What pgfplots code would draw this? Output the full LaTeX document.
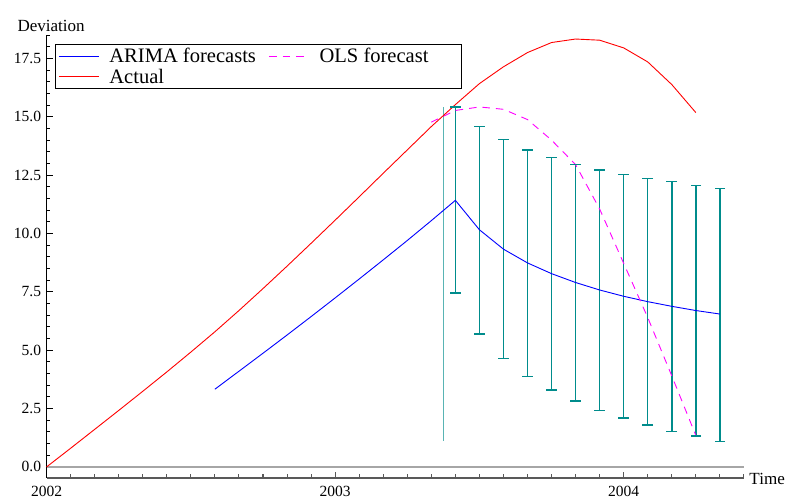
\documentclass[border=0pt]{standalone}
\usepackage{fontspec}
\setmainfont{Liberation Serif}
\usepackage{pgfplots}
\pgfplotsset{compat=1.18}
\definecolor{errteal}{RGB}{0,140,140}
\definecolor{ablue}{RGB}{0,0,255}
\definecolor{ared}{RGB}{255,0,0}
\definecolor{amag}{RGB}{255,0,255}
\begin{document}
\begin{tikzpicture}
\begin{axis}[
  scale only axis, width=696pt, height=442pt,
  xmin=2002, xmax=2004.4167, ymin=-0.47, ymax=18.5,
  axis x line=bottom, axis y line=left,
  axis line style={-},
  x axis line style={draw=black!65, line width=1.2pt},
  y axis line style={draw=black, line width=1pt},
  xtick={2002,2003,2004}, xticklabels={2002,2003,2004},
  minor xtick={2002.0833,2002.1667,2002.25,2002.3333,2002.4167,2002.5,2002.5833,2002.6667,2002.75,2002.8333,2002.9167,
               2003.0833,2003.1667,2003.25,2003.3333,2003.4167,2003.5,2003.5833,2003.6667,2003.75,2003.8333,2003.9167,
               2004.0833,2004.1667,2004.25,2004.3333,2004.4167},
  ytick={0,2.5,5,7.5,10,12.5,15,17.5},
  minor ytick={0.5,1,1.5,2,3,3.5,4,4.5,5.5,6,6.5,7,8,8.5,9,9.5,10.5,11,11.5,12,13,13.5,14,14.5,15.5,16,16.5,17,18,18.5},
  tick align=inside,
  major tick length=6pt, minor tick length=3.5pt,
  x tick style={draw=black!65, line width=1pt},
  y tick style={draw=black, line width=0.9pt},
  /pgf/number format/assume math mode=true,
  tick label style={font=\fontsize{15.5}{17}\selectfont},
  yticklabel style={xshift=-2pt, /pgf/number format/fixed, /pgf/number format/fixed zerofill, /pgf/number format/precision=1},
  xticklabel style={yshift=-5pt},
  xlabel={Time}, ylabel={Deviation},
  xlabel style={at={(axis description cs:1,0)}, anchor=west, xshift=2pt, yshift=-1.5pt, font=\fontsize{17}{19}\selectfont},
  ylabel style={rotate=-90, at={(axis description cs:0,1)}, anchor=south, xshift=4.5pt, font=\fontsize{17}{19}\selectfont},
  clip=false,
  unbounded coords=jump,
  legend columns=2,
  legend cell align=left,
  legend image code/.code={\draw[#1, line width=1pt] (0pt,0pt) -- (40pt,0pt);},
  legend style={at={(rel axis cs:0.0122,0.9796)}, anchor=north west,
    font=\fontsize{20.5}{22}\selectfont, inner xsep=3pt, inner ysep=3pt,
    nodes={inner xsep=4pt, inner ysep=1pt}, row sep=2.5pt,
    /tikz/every odd column/.append style={column sep=6pt},
    /tikz/every even column/.append style={column sep=8.5pt}},
]
\addplot[draw=gray!70, line width=1.3pt, forget plot] coordinates {(2002,0) (2004.4167,0)};
\addplot[draw=errteal!65, line width=1.5pt, forget plot] coordinates {(2003.375,1.12) (2003.375,15.42)};
\addplot[draw=errteal, line width=1.5pt, mark=-, mark size=5.3pt, mark options={solid, draw=errteal, line width=1.3pt}, forget plot]
coordinates {
(2003.4167,7.45) (2003.4167,15.42) (2003.4167,nan)
(2003.5,5.69) (2003.5,14.59) (2003.5,nan)
(2003.5833,4.64) (2003.5833,14.02) (2003.5833,nan)
(2003.6667,3.86) (2003.6667,13.58) (2003.6667,nan)
(2003.75,3.29) (2003.75,13.25) (2003.75,nan)
(2003.8333,2.82) (2003.8333,12.96) (2003.8333,nan)
(2003.9167,2.43) (2003.9167,12.72) (2003.9167,nan)
(2004.0,2.09) (2004.0,12.52) (2004.0,nan)
(2004.0833,1.80) (2004.0833,12.36) (2004.0833,nan)
(2004.1667,1.53) (2004.1667,12.22) (2004.1667,nan)
(2004.25,1.32) (2004.25,12.07) (2004.25,nan)
(2004.3333,1.10) (2004.3333,11.94)
};
\addplot[color=ablue, line width=0.9pt] coordinates {
(2002.5833,3.33) (2002.6667,4.10) (2002.75,4.87) (2002.8333,5.65) (2002.9167,6.44)
(2003.0,7.24) (2003.0833,8.05) (2003.1667,8.87) (2003.25,9.70) (2003.3333,10.55)
(2003.4167,11.42) (2003.5,10.16) (2003.5833,9.33) (2003.6667,8.74) (2003.75,8.28)
(2003.8333,7.90) (2003.9167,7.58) (2004.0,7.31) (2004.0833,7.08) (2004.1667,6.88)
(2004.25,6.70) (2004.3333,6.55)
};
\addlegendentry{ARIMA forecasts}
\addplot[color=amag, line width=0.9pt, dash pattern=on 7.5pt off 6pt] coordinates {
(2003.3333,14.77) (2003.4167,15.27) (2003.5,15.42) (2003.5833,15.32) (2003.6667,14.88)
(2003.75,14.00) (2003.8333,12.95) (2003.9167,11.05) (2004.0,8.72) (2004.0833,6.40)
(2004.1667,3.90) (2004.25,1.35)
};
\addlegendentry{OLS forecast\hspace*{25.5pt}}
\addplot[color=ared, line width=0.9pt] coordinates {
(2002.0,0) (2002.0833,0.80) (2002.1667,1.61) (2002.25,2.42) (2002.3333,3.24) (2002.4167,4.07)
(2002.5,4.92) (2002.5833,5.79) (2002.6667,6.70) (2002.75,7.64) (2002.8333,8.60) (2002.9167,9.58)
(2003.0,10.57) (2003.0833,11.57) (2003.1667,12.58) (2003.25,13.58) (2003.3333,14.58) (2003.4167,15.52)
(2003.5,16.42) (2003.5833,17.14) (2003.6667,17.75) (2003.75,18.18) (2003.8333,18.33) (2003.9167,18.28)
(2004.0,17.95) (2004.0833,17.35) (2004.1667,16.38) (2004.25,15.18)
};
\addlegendentry{Actual}
\end{axis}
\pgfresetboundingbox
\path ([xshift=-46.5pt,yshift=-21pt]current axis.south west) rectangle ([xshift=43pt,yshift=35pt]current axis.north east);
\end{tikzpicture}
\end{document}
